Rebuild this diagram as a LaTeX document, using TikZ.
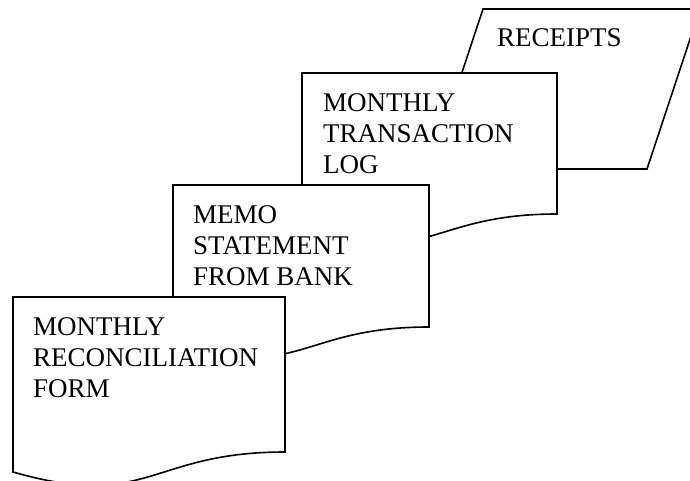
\documentclass[tikz,border=0pt]{standalone}
\usepackage{fontspec}
\setmainfont{Liberation Serif}

\tikzset{
	docShape/.style={draw=black, line width=1.6pt, fill=white},
	docText/.style={anchor=north west, inner sep=0pt, align=left,
		font=\fontsize{27}{31}\selectfont}
}

\begin{document}
\begin{tikzpicture}[x=1pt, y=-1pt]
\useasboundingbox (0,0) rectangle (690,481);
\clip (0,0) rectangle (690,481);

% receipts (back)
\path[docShape] (483,9) -- (700,9) -- (647,169) -- (430,169) -- cycle;
\node[docText] (receiptsLabel) at (497,28) {RECEIPTS};

% ---

\path[docShape] (302,73) -- (557,73) -- (557,214)
	.. controls (429.5,214) and (429.5,267.5) .. (302,233) -- cycle;
\node[docText] (logLabel) at (323,93) {MONTHLY\\TRANSACTION\\LOG};

% ---

\path[docShape] (173,185) -- (429,185) -- (429,327)
	.. controls (301,327) and (301,381) .. (173,346) -- cycle;
\node[docText] (memoLabel) at (193,205) {MEMO\\STATEMENT\\FROM BANK};

% ---

\path[docShape] (13,297) -- (285,297) -- (285,452)
	.. controls (149,452) and (149,511) .. (13,472) -- cycle;
\node[docText] (reconLabel) at (33,317) {MONTHLY\\RECONCILIATION\\FORM};

\end{tikzpicture}
\end{document}
